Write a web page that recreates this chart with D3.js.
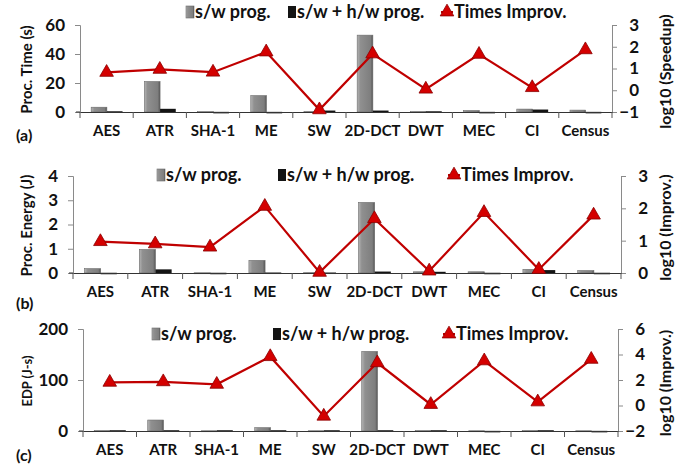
<!DOCTYPE html>
<html>
<head>
<meta charset="utf-8">
<script src="https://cdn.jsdelivr.net/npm/d3@7"></script>
<style>
  body { margin: 0; background: #fff; }
  svg text { font-family: Lato, "Noto Sans", sans-serif; fill: #111; }
</style>
</head>
<body>
<svg id="chart" width="692" height="470"></svg>
<script>
const categories = ['AES', 'ATR', 'SHA-1', 'ME', 'SW', '2D-DCT', 'DWT', 'MEC', 'CI', 'Census']
const seriesNames = ['s/w prog.', 's/w + h/w prog.', 'Times Improv.']

// (a) processing time
const timeSw = [3.3, 21, 0.3, 11.3, 0.4, 53, 0.4, 1.0, 2.0, 1.3]
const timeHw = [0.5, 2.2, 0.1, 0.1, 1.0, 1.0, 0.5, 0.1, 1.7, 0.1]
const timeLog = [0.82, 0.96, 0.83, 1.76, -0.9, 1.67, 0.05, 1.65, 0.12, 1.86]
const timeTicks = [0, 20, 40, 60]
const timeLogTicks = [-1, 0, 1, 2, 3]

// (b) processing energy
const energySw = [0.18, 0.97, 0.01, 0.52, 0.02, 2.91, 0.05, 0.05, 0.15, 0.1]
const energyHw = [0.01, 0.15, 0.01, 0.02, 0.02, 0.06, 0.05, 0.01, 0.12, 0.01]
const energyLog = [0.97, 0.9, 0.8, 2.06, 0.02, 1.68, 0.06, 1.87, 0.11, 1.79]
const energyTicks = [0, 1, 2, 3, 4]
const energyLogTicks = [0, 1, 2, 3]

// (c) energy-delay product
const edpSw = [1, 21.5, 0.5, 6.5, 0.5, 156, 1, 0.5, 1, 0.5]
const edpHw = [1.5, 1.5, 1.5, 1.5, 1.5, 1.5, 1.5, 0.3, 1.5, 0.3]
const edpLog = [1.82, 1.86, 1.66, 3.83, -0.84, 3.35, 0.08, 3.5, 0.28, 3.62]
const edpTicks = [0, 100, 200]
const edpLogTicks = [-2, 0, 2, 4, 6]

const panels = [
    {tag: '(a)', sw: timeSw, hw: timeHw, log: timeLog, ticks: timeTicks, logTicks: timeLogTicks,
     yTitle: 'Proc. Time (s)', rTitle: 'log10 (Speedup)', titleSize: 15,
     left: 80, right: 612, top: 25, bottom: 112, legendY: 12, legendX: [186, 288, 446], tagY: 141},
    {tag: '(b)', sw: energySw, hw: energyHw, log: energyLog, ticks: energyTicks, logTicks: energyLogTicks,
     yTitle: 'Proc. Energy (J)', rTitle: 'log10 (Improv.)', titleSize: 15,
     left: 73, right: 621, top: 176, bottom: 273, legendY: 175, legendX: [157, 278, 453], tagY: 309},
    {tag: '(c)', sw: edpSw, hw: edpHw, log: edpLog, ticks: edpTicks, logTicks: edpLogTicks,
     yTitle: 'EDP (J-s)', rTitle: 'log10 (Improv.)', titleSize: 13,
     left: 83, right: 618, top: 329, bottom: 431, legendY: 334, legendX: [152, 273, 448], tagY: 461}
]

const svg = d3.select('#chart')
const defs = svg.append('defs')
const grad = defs.append('linearGradient').attr('id', 'greyBar')
grad.append('stop').attr('offset', '0%').attr('stop-color', '#b4b4b4')
grad.append('stop').attr('offset', '20%').attr('stop-color', '#909090')
grad.append('stop').attr('offset', '85%').attr('stop-color', '#7e7e7e')
grad.append('stop').attr('offset', '100%').attr('stop-color', '#555')

const red = '#c00000'
const tri = d3.symbol().type(d3.symbolTriangle).size(80)
const fmt = d3.format('d')

panels.forEach(p => {
    const g = svg.append('g')
    const x = d3.scaleBand().domain(categories).range([p.left, p.right])
    const bw = x.bandwidth()
    const inner = d3.scaleBand().domain(['sw', 'hw']).range([bw * 0.21, bw * 0.8])
    const y = d3.scaleLinear().domain(d3.extent(p.ticks)).range([p.bottom, p.top])
    const yr = d3.scaleLinear().domain(d3.extent(p.logTicks)).range([p.bottom, p.top])

    // left axis
    const la = g.append('g').attr('transform', `translate(${p.left},0)`)
        .call(d3.axisLeft(y).tickValues(p.ticks).tickFormat(fmt).tickSize(5).tickPadding(10))
    la.select('.domain').attr('stroke', '#8a8a8a')
    la.selectAll('.tick line').attr('stroke', '#8a8a8a')
    la.selectAll('text').attr('font-size', 17).attr('font-weight', 'bold')

    // right axis
    const ra = g.append('g').attr('transform', `translate(${p.right},0)`)
        .call(d3.axisRight(yr).tickValues(p.logTicks).tickFormat(fmt).tickSize(5).tickPadding(8))
    ra.select('.domain').attr('stroke', '#8a8a8a')
    ra.selectAll('.tick line').attr('stroke', '#8a8a8a')
    ra.selectAll('text').attr('font-size', 17).attr('font-weight', 'bold')
        .attr('text-anchor', 'end').attr('x', 27)

    // bars
    const rows = categories.map((c, i) => ({c, sw: p.sw[i], hw: p.hw[i], lg: p.log[i]}))
    g.selectAll('rect.sw').data(rows).join('rect')
        .attr('x', d => x(d.c) + inner('sw'))
        .attr('width', inner.bandwidth())
        .attr('y', d => y(d.sw))
        .attr('height', d => Math.max(1, p.bottom - y(d.sw)))
        .attr('fill', 'url(#greyBar)')
        .attr('stroke', '#6a6a6a').attr('stroke-width', 0.6)
    g.selectAll('rect.hw').data(rows).join('rect')
        .attr('x', d => x(d.c) + inner('hw'))
        .attr('width', inner.bandwidth())
        .attr('y', d => y(d.hw))
        .attr('height', d => Math.max(1.5, p.bottom - y(d.hw)))
        .attr('fill', '#141414')

    // category axis
    const xa = g.append('g').attr('transform', `translate(0,${p.bottom})`)
        .call(d3.axisBottom(x).tickSize(0).tickPadding(13))
    xa.select('.domain').attr('stroke', '#333').attr('stroke-width', 1.2)
    xa.selectAll('text').attr('font-size', 15).attr('font-weight', 'bold')
    const bounds = categories.map(c => x(c)).concat([p.right])
    g.selectAll('line.cat').data(bounds).join('line')
        .attr('x1', d => d).attr('x2', d => d)
        .attr('y1', p.bottom).attr('y2', p.bottom + 6)
        .attr('stroke', '#555')
    g.append('line').attr('x1', p.left - 4).attr('x2', p.left)
        .attr('y1', p.bottom).attr('y2', p.bottom).attr('stroke', '#333')

    // improvement line
    const line = d3.line().x(d => x(d.c) + bw / 2).y(d => yr(d.lg))
    g.append('path').datum(rows).attr('d', line)
        .attr('fill', 'none').attr('stroke', red).attr('stroke-width', 2.2)
    g.selectAll('path.mk').data(rows).join('path')
        .attr('d', tri)
        .attr('transform', d => `translate(${x(d.c) + bw / 2},${yr(d.lg)})`)
        .attr('fill', '#d40000').attr('stroke', '#8a0000').attr('stroke-width', 0.8)

    // titles
    g.append('text')
        .attr('transform', `translate(32,${(p.top + p.bottom) / 2 + 1}) rotate(-90)`)
        .attr('text-anchor', 'middle')
        .attr('font-size', p.titleSize).attr('font-weight', 'bold')
        .text(p.yTitle)
    g.append('text')
        .attr('transform', `translate(671,${(p.top + p.bottom) / 2 + 3}) rotate(-90)`)
        .attr('text-anchor', 'middle')
        .attr('font-size', 16).attr('font-weight', 'bold')
        .text(p.rTitle)
    g.append('text').attr('x', 16).attr('y', p.tagY)
        .attr('font-size', 16).attr('font-weight', 'bold')
        .text(p.tag)

    // legend
    const ly = p.legendY
    g.append('rect').attr('x', p.legendX[0]).attr('y', ly - 6).attr('width', 8).attr('height', 12)
        .attr('fill', 'url(#greyBar)').attr('stroke', '#6a6a6a').attr('stroke-width', 0.6)
    g.append('rect').attr('x', p.legendX[1]).attr('y', ly - 6).attr('width', 8).attr('height', 12)
        .attr('fill', '#141414')
    g.append('line').attr('x1', p.legendX[2] - 5).attr('x2', p.legendX[2] + 7)
        .attr('y1', ly).attr('y2', ly).attr('stroke', red).attr('stroke-width', 2)
    g.append('path').attr('d', tri)
        .attr('transform', `translate(${p.legendX[2] + 1},${ly})`)
        .attr('fill', '#d40000').attr('stroke', '#8a0000').attr('stroke-width', 0.8)
    seriesNames.forEach((s, i) => {
        g.append('text').attr('x', p.legendX[i] + (i === 2 ? 8 : 9)).attr('y', ly + 6)
            .attr('font-size', 18).attr('font-weight', 'bold')
            .text(s)
    })
})
</script>
</body>
</html>
